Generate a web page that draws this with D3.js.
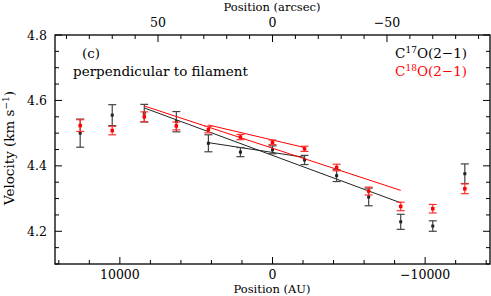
<!DOCTYPE html>
<html>
<head>
<meta charset="utf-8">
<script src="https://cdn.jsdelivr.net/npm/d3@7"></script>
<style>
body{margin:0;background:#fff}
text{font-family:"DejaVu Serif","Liberation Serif",serif;fill:#000}
</style>
</head>
<body>
<div id="chart"></div>
<script>
// positions (AU) of the cuts
const posAU=[12600,10500,8400,6300,4200,2100,0,-2100,-4200,-6300,-8400,-10500,-12600]
// C17O(2-1) centroid velocity and error
const v17=[4.500,4.555,4.561,4.535,4.469,4.442,4.449,4.418,4.370,4.305,4.229,4.216,4.376]
const e17=[0.043,0.032,0.027,0.031,0.026,0.014,0.012,0.014,0.018,0.027,0.023,0.016,0.030]
// C18O(2-1)
const v18=[4.523,4.508,4.550,4.522,4.511,4.488,4.472,4.452,4.395,4.323,4.276,4.269,4.330]
const e18=[0.018,0.013,0.015,0.012,0.010,0.008,0.007,0.008,0.010,0.012,0.013,0.013,0.015]
// linear fits [x AU, v]
const fit17Outer=[[8400,4.577],[-8400,4.287]]
const fit17Inner=[[4200,4.471],[-2100,4.426]]
const fit18Outer=[[8400,4.583],[-8400,4.325]]
const fit18Inner=[[4200,4.525],[-2100,4.456]]
// axis ticks
const auMajor=[10000,0,-10000]
const arcMajor=[50,0,-50]
const vMajor=[4.2,4.4,4.6,4.8]

const W=491,H=296
const m={l:55,r:1,t:35,b:32}
const fs=12.5,fa=13.5,ft=11.5

const svg=d3.select("#chart").append("svg").attr("width",W).attr("height",H)

const x=d3.scaleLinear().domain([14250,-14250]).range([m.l,W-m.r])
const xa=d3.scaleLinear().domain([95,-95]).range([m.l,W-m.r])
const y=d3.scaleLinear().domain([4.1,4.8]).range([H-m.b,m.t])

const fmt=d=>d<0?"\u2212"+Math.abs(d):String(d)

// frame
svg.append("rect").attr("x",m.l).attr("y",m.t)
.attr("width",W-m.r-m.l).attr("height",H-m.b-m.t)
.attr("fill","none").attr("stroke","#000").attr("stroke-width",1.3)

const ticks=svg.append("g").attr("stroke","#000").attr("stroke-width",1)

// bottom AU ticks
d3.range(-14000,14001,2000).forEach(t=>{
const len=t%10000===0?7:4
ticks.append("line").attr("x1",x(t)).attr("x2",x(t)).attr("y1",H-m.b).attr("y2",H-m.b-len)
})
// top arcsec ticks
d3.range(-90,91,10).forEach(t=>{
const len=t%50===0?7:4
ticks.append("line").attr("x1",xa(t)).attr("x2",xa(t)).attr("y1",m.t).attr("y2",m.t+len)
})
// left/right velocity ticks
d3.range(4.1,4.801,0.05).forEach(t=>{
const major=Math.abs(Math.round(t*10)/10-t)<1e-6&&Math.round(t*10)%2===0
const len=major?7:4
ticks.append("line").attr("x1",m.l).attr("x2",m.l+len).attr("y1",y(t)).attr("y2",y(t))
ticks.append("line").attr("x1",W-m.r).attr("x2",W-m.r-len).attr("y1",y(t)).attr("y2",y(t))
})

// tick labels
svg.selectAll(".xl").data(auMajor).enter().append("text")
.attr("x",d=>x(d)).attr("y",279).attr("text-anchor","middle")
.attr("font-size",fs).text(fmt)
svg.selectAll(".al").data(arcMajor).enter().append("text")
.attr("x",d=>xa(d)).attr("y",27).attr("text-anchor","middle")
.attr("font-size",fs).text(fmt)
svg.selectAll(".yl").data(vMajor).enter().append("text")
.attr("x",47).attr("y",d=>y(d)+4.5).attr("text-anchor","end")
.attr("font-size",fs).text(d=>d.toFixed(1))

// axis titles
svg.append("text").attr("x",272).attr("y",293).attr("text-anchor","middle")
.attr("font-size",ft).text("Position (AU)")
svg.append("text").attr("x",272).attr("y",11).attr("text-anchor","middle")
.attr("font-size",ft).text("Position (arcsec)")
const yt=svg.append("text").attr("transform","translate(14,148) rotate(-90)")
.attr("text-anchor","middle").attr("font-size",fa)
yt.append("tspan").text("Velocity (km s")
yt.append("tspan").attr("dy",-5).attr("font-size",9).text("\u22121")
yt.append("tspan").attr("dy",5).text(")")

// annotations
svg.append("text").attr("x",82).attr("y",58).attr("font-size",fa).text("(c)")
svg.append("text").attr("x",73).attr("y",76).attr("font-size",fa).text("perpendicular to filament")

function legend(yy,iso,col){
const t=svg.append("text").attr("x",467).attr("y",yy).attr("text-anchor","end")
.attr("font-size",fa).style("fill",col)
t.append("tspan").text("C")
t.append("tspan").attr("dy",-5).attr("font-size",9).text(iso)
t.append("tspan").attr("dy",5).text("O(2\u22121)")
}
legend(58,"17","#000")
legend(76,"18","#ff0000")

const line=d3.line().x(d=>x(d[0])).y(d=>y(d[1]))
const plot=svg.append("g")

function drawSeries(vals,errs,fits,col,barCol,size){
fits.forEach(f=>{
plot.append("path").attr("d",line(f)).attr("fill","none")
.attr("stroke",col).attr("stroke-width",1)
})
const g=plot.append("g")
posAU.forEach((p,i)=>{
const cx=x(p),top=y(vals[i]+errs[i]),bot=y(vals[i]-errs[i])
g.append("line").attr("x1",cx).attr("x2",cx).attr("y1",top).attr("y2",bot)
.attr("stroke",barCol).attr("stroke-width",1.2)
g.append("line").attr("x1",cx-4).attr("x2",cx+4).attr("y1",top).attr("y2",top)
.attr("stroke",barCol).attr("stroke-width",1.2)
g.append("line").attr("x1",cx-4).attr("x2",cx+4).attr("y1",bot).attr("y2",bot)
.attr("stroke",barCol).attr("stroke-width",1.2)
g.append("rect").attr("x",cx-size/2).attr("y",y(vals[i])-size/2)
.attr("width",size).attr("height",size).attr("fill",col)
})
}

drawSeries(v17,e17,[fit17Outer,fit17Inner],"#222","#444",3)
drawSeries(v18,e18,[fit18Outer,fit18Inner],"#ff0000","#ff3030",3.5)
</script>
</body>
</html>
